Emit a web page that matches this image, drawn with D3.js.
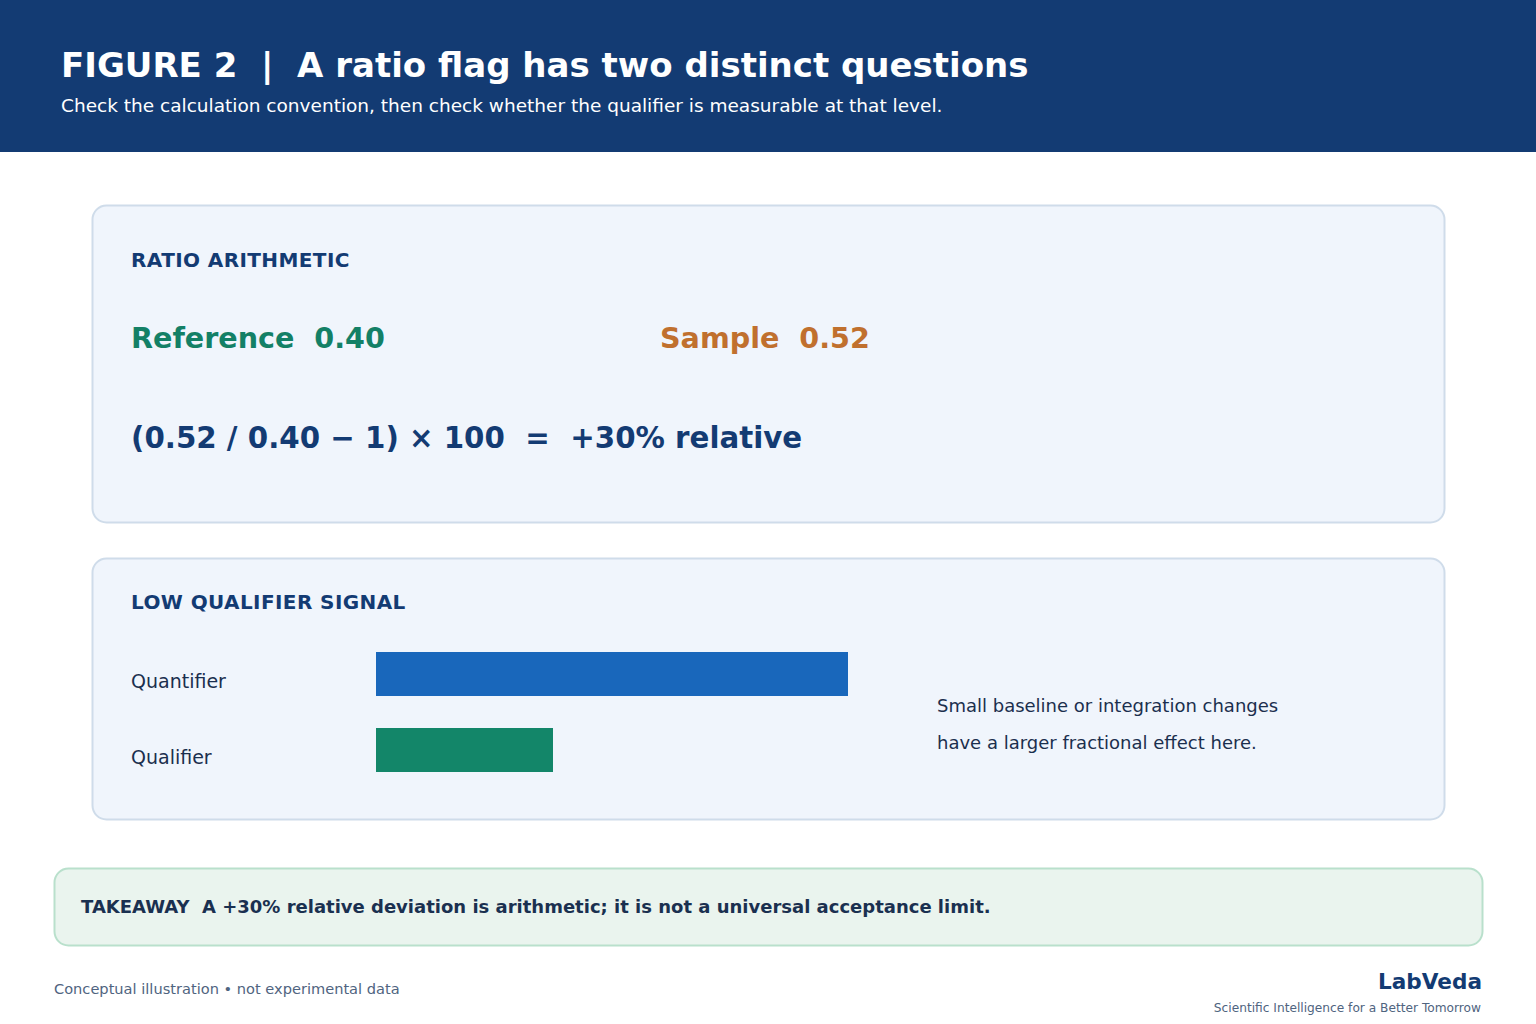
<!DOCTYPE html>
<html>
<head>
<meta charset="utf-8">
<script src="https://cdn.jsdelivr.net/npm/d3@7"></script>
<style>
  html, body { margin: 0; padding: 0; background: #fff; }
  svg { display: block; font-family: "DejaVu Sans", sans-serif; }
</style>
</head>
<body>
<svg id="chart"></svg>
<script>
// signal values (arbitrary units)
const signalNames = ["Quantifier", "Qualifier"];
const signalValues = [100, 37.5];
const signalColors = ["#1967bb", "#138669"];

const referenceRatio = 0.40;
const sampleRatio = 0.52;

const W = 1536, H = 1024;
const navy = "#133b73";
const ink = "#1b2f4e";

const svg = d3.select("#chart").attr("width", W).attr("height", H);

// header band
svg.append("rect").attr("x", 0).attr("y", 0).attr("width", W).attr("height", 152).attr("fill", navy);
svg.append("text").attr("x", 61).attr("y", 77)
  .attr("fill", "#fff").attr("font-size", 34).attr("font-weight", "bold")
  .attr("xml:space", "preserve")
  .text("FIGURE 2  |  A ratio flag has two distinct questions");
svg.append("text").attr("x", 61).attr("y", 112)
  .attr("fill", "#fff").attr("font-size", 18.5)
  .text("Check the calculation convention, then check whether the qualifier is measurable at that level.");

function panel(x, y, w, h, fill, stroke) {
  svg.append("rect").attr("x", x + 0.5).attr("y", y + 0.5).attr("width", w).attr("height", h)
    .attr("rx", 14).attr("fill", fill).attr("stroke", stroke).attr("stroke-width", 2);
}

// panel 1: ratio arithmetic
panel(92, 205, 1352, 317, "#f0f5fc", "#cfdcea");
svg.append("text").attr("x", 131).attr("y", 267)
  .attr("fill", navy).attr("font-size", 20).attr("font-weight", "bold").attr("letter-spacing", 0.4)
  .text("RATIO ARITHMETIC");

const fmt = d3.format(".2f");
svg.append("text").attr("x", 131).attr("y", 348).attr("xml:space", "preserve")
  .attr("fill", "#138066").attr("font-size", 28.6).attr("font-weight", "bold")
  .text(`Reference  ${fmt(referenceRatio)}`);
svg.append("text").attr("x", 660).attr("y", 348).attr("xml:space", "preserve")
  .attr("fill", "#c0702e").attr("font-size", 28.6).attr("font-weight", "bold")
  .text(`Sample  ${fmt(sampleRatio)}`);

const rel = Math.round((sampleRatio / referenceRatio - 1) * 100);
svg.append("text").attr("x", 131).attr("y", 448).attr("xml:space", "preserve")
  .attr("fill", navy).attr("font-size", 29.3).attr("font-weight", "bold")
  .text(`(${fmt(sampleRatio)} / ${fmt(referenceRatio)} \u2212 1) \u00d7 100  =  +${rel}% relative`);

// panel 2: low qualifier signal
panel(92, 558, 1352, 261, "#f0f5fc", "#cfdcea");
svg.append("text").attr("x", 131).attr("y", 609)
  .attr("fill", navy).attr("font-size", 20).attr("font-weight", "bold").attr("letter-spacing", 0.4)
  .text("LOW QUALIFIER SIGNAL");

const x = d3.scaleLinear().domain([0, d3.max(signalValues)]).range([376, 848]);
const y = d3.scaleBand().domain(signalNames).range([652, 772]).paddingInner(32 / 76).paddingOuter(0);

const rows = svg.append("g").selectAll("g").data(signalNames).join("g");
rows.append("rect")
  .attr("x", x(0)).attr("y", d => y(d))
  .attr("width", (d, i) => x(signalValues[i]) - x(0))
  .attr("height", y.bandwidth())
  .attr("fill", (d, i) => signalColors[i]);
rows.append("text")
  .attr("x", 131).attr("y", d => y(d) + y.bandwidth() / 2 + 14)
  .attr("fill", ink).attr("font-size", 19)
  .text(d => d);

svg.append("text").attr("x", 937).attr("y", 712)
  .attr("fill", ink).attr("font-size", 18)
  .text("Small baseline or integration changes");
svg.append("text").attr("x", 937).attr("y", 749)
  .attr("fill", ink).attr("font-size", 18)
  .text("have a larger fractional effect here.");

// takeaway
panel(54, 868, 1428, 77, "#eaf4ee", "#b9e0cc");
svg.append("text").attr("x", 81).attr("y", 913).attr("xml:space", "preserve")
  .attr("fill", "#1a3050").attr("font-size", 18).attr("font-weight", "bold")
  .text(`TAKEAWAY  A +${rel}% relative deviation is arithmetic; it is not a universal acceptance limit.`);

// footer
svg.append("text").attr("x", 54).attr("y", 994)
  .attr("fill", "#4f6480").attr("font-size", 14.6)
  .text("Conceptual illustration \u2022 not experimental data");
svg.append("text").attr("x", 1482).attr("y", 989).attr("text-anchor", "end")
  .attr("fill", navy).attr("font-size", 21.6).attr("font-weight", "bold")
  .text("LabVeda");
svg.append("text").attr("x", 1481).attr("y", 1012).attr("text-anchor", "end")
  .attr("fill", "#4f6480").attr("font-size", 12.2)
  .text("Scientific Intelligence for a Better Tomorrow");
</script>
</body>
</html>
